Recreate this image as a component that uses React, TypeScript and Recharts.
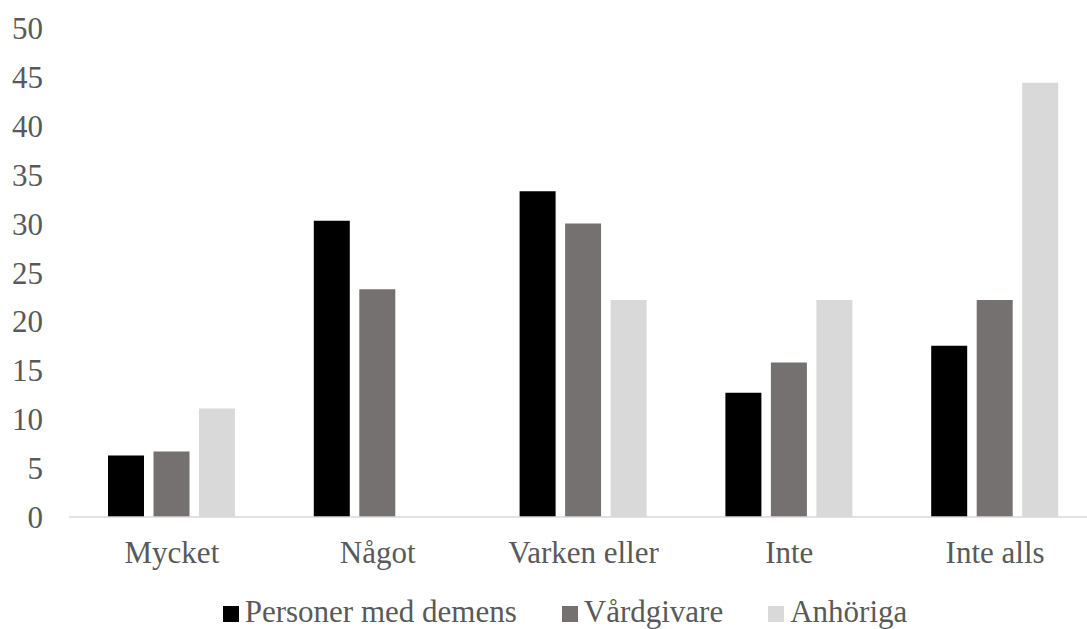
import React from 'react';
import { BarChart, Bar, XAxis, YAxis, Legend } from 'recharts';

// categories along the x axis
const categories = ['Mycket', 'Något', 'Varken eller', 'Inte', 'Inte alls'];

// series names in legend order
const seriesNames = ['Personer med demens', 'Vårdgivare', 'Anhöriga'];

// percentages per group
const personer = [6.3, 30.3, 33.3, 12.7, 17.5];
const vardgivare = [6.7, 23.3, 30.0, 15.8, 22.2];
const anhoriga = [11.1, 0, 22.2, 22.2, 44.4];

const yTicks = [0, 5, 10, 15, 20, 25, 30, 35, 40, 45, 50];

const FONT = '"Liberation Serif", "Times New Roman", serif';
const TEXT = '#595959';

const data = categories.map((name, i) => ({
  name,
  personer: personer[i],
  vardgivare: vardgivare[i],
  anhoriga: anhoriga[i],
}));

// legend with square swatches, drawn as plain html, kept in series order
const SquareLegend = (props: any) => {
  const items = [...(props.payload || [])].sort(
    (a: any, b: any) => seriesNames.indexOf(a.value) - seriesNames.indexOf(b.value)
  );
  return (
    <div
      style={{
        height: 38,
        lineHeight: '38px',
        paddingLeft: 32,
        paddingTop: 2,
        boxSizing: 'border-box',
        textAlign: 'center',
        fontFamily: FONT,
        fontSize: 31,
        color: TEXT,
        whiteSpace: 'nowrap',
      }}
    >
      {items.map((item: any, i: number) => (
        <span key={item.value} style={{ marginRight: i < items.length - 1 ? 45 : 0 }}>
          <span
            style={{
              display: 'inline-block',
              width: 16,
              height: 16,
              background: item.color,
              marginRight: 6,
              verticalAlign: 'baseline',
            }}
          />
          {item.value}
        </span>
      ))}
    </div>
  );
};

const App: React.FC = () => {
  return (
    <div style={{ position: 'absolute', left: 0, top: 0, width: 1087, height: 629, overflow: 'hidden', background: '#fff' }}>
      <BarChart
        width={1098}
        height={629}
        data={data}
        margin={{ top: 28, right: 0, left: 0, bottom: 0 }}
        barSize={36}
        barGap={9.5}
      >
        <XAxis
          dataKey="name"
          height={74}
          tickLine={false}
          tickMargin={18}
          axisLine={{ stroke: '#d9d9d9', strokeWidth: 1.5 }}
          tick={{ fill: TEXT, fontSize: 31, fontFamily: FONT }}
          interval={0}
        />
        <YAxis
          width={69}
          domain={[0, 50]}
          ticks={yTicks}
          axisLine={false}
          tickLine={false}
          tickMargin={20}
          tick={{ fill: TEXT, fontSize: 31, fontFamily: FONT }}
        />
        <Legend verticalAlign="bottom" content={<SquareLegend />} />
        <Bar dataKey="personer" name={seriesNames[0]} fill="#000000" isAnimationActive={false} />
        <Bar dataKey="vardgivare" name={seriesNames[1]} fill="#767171" isAnimationActive={false} />
        <Bar dataKey="anhoriga" name={seriesNames[2]} fill="#d9d9d9" isAnimationActive={false} />
      </BarChart>
    </div>
  );
};

export default App;
